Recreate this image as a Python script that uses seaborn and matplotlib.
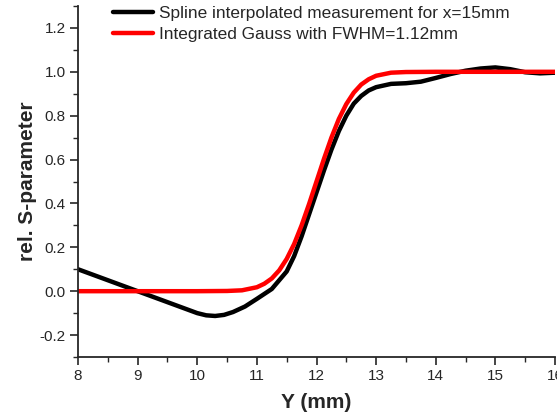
import matplotlib
matplotlib.use("Agg")
import matplotlib.pyplot as plt
import seaborn as sns
import pandas as pd
from matplotlib.ticker import MultipleLocator, FuncFormatter

meas_x = [8.0, 8.25, 8.5, 8.75, 9.0, 9.25, 9.5, 9.75, 10.0, 10.15, 10.3, 10.45, 10.6, 10.8,
          11.0, 11.25, 11.5, 11.625, 11.75, 11.875, 12.0, 12.125, 12.25, 12.375, 12.5,
          12.625, 12.75, 12.875, 13.0, 13.25, 13.5, 13.75, 14.0, 14.25, 14.5, 14.75,
          15.0, 15.25, 15.5, 15.75, 16.0]
meas_y = [0.10, 0.075, 0.05, 0.025, 0.0, -0.025, -0.05, -0.075, -0.10, -0.11, -0.113, -0.108,
          -0.095, -0.07, -0.035, 0.01, 0.09, 0.16, 0.25, 0.35, 0.45, 0.55, 0.645, 0.73, 0.80,
          0.855, 0.89, 0.915, 0.93, 0.945, 0.948, 0.955, 0.972, 0.99, 1.005, 1.015,
          1.02, 1.012, 0.998, 0.993, 0.996]

# Integrated Gauss with FWHM=1.12mm
gauss_x = [8.0, 9.0, 10.0, 10.5, 10.75, 11.0, 11.125, 11.25, 11.375, 11.5, 11.625, 11.75,
           11.875, 12.0, 12.125, 12.25, 12.375, 12.5, 12.625, 12.75, 12.875, 13.0, 13.25,
           13.5, 14.0, 15.0, 16.0]
gauss_y = [0.0, 0.0, 0.0, 0.001, 0.004, 0.018, 0.034, 0.058, 0.095, 0.147, 0.215, 0.30,
           0.397, 0.50, 0.603, 0.70, 0.785, 0.853, 0.905, 0.942, 0.966, 0.982, 0.996,
           0.999, 1.0, 1.0, 1.0]

labels = ["Spline interpolated measurement for x=15mm", "Integrated Gauss with FWHM=1.12mm"]

sns.set_style("ticks")
plt.rcParams['font.family'] = ['Liberation Sans', 'DejaVu Sans']

fig = plt.figure(figsize=(5.57, 4.16), dpi=100)
ax = fig.add_axes([78/557, 1-357/416, (555-78)/557, (357-6)/416])

df1 = pd.DataFrame({"x": meas_x, "y": meas_y})
df2 = pd.DataFrame({"x": gauss_x, "y": gauss_y})
sns.lineplot(data=df1, x="x", y="y", ax=ax, color="black", lw=3.2, label=labels[0], sort=True)
sns.lineplot(data=df2, x="x", y="y", ax=ax, color="#ff0000", lw=3.2, label=labels[1], sort=True)

ax.set_xlim(8, 16)
ax.set_ylim(-0.3, 1.3)
ax.xaxis.set_major_locator(MultipleLocator(1))
ax.xaxis.set_minor_locator(MultipleLocator(0.5))
ax.yaxis.set_major_locator(MultipleLocator(0.2))
ax.yaxis.set_minor_locator(MultipleLocator(0.1))
ax.xaxis.set_major_formatter(FuncFormatter(lambda v, p: f"{int(round(v))}"))
ax.yaxis.set_major_formatter(FuncFormatter(lambda v, p: f"{v:.1f}" if abs(v) > 1e-9 else "0.0"))

for s in ["top", "right"]:
    ax.spines[s].set_visible(False)
for s in ["left", "bottom"]:
    ax.spines[s].set_linewidth(1.3)
ax.tick_params(which="major", direction="out", length=6, width=1.2, labelsize=11, pad=3)
ax.tick_params(which="minor", direction="out", length=3.5, width=1.0)

ax.set_xlabel("Y (mm)", fontsize=15, fontweight="bold")
ax.set_ylabel("rel. S-parameter", fontsize=15, fontweight="bold")
ax.xaxis.set_label_coords(316/557, 1-402/416, transform=fig.transFigure)
ax.yaxis.set_label_coords(28/557, 1-181/416, transform=fig.transFigure)
ax.xaxis.label.set_va("center")
ax.yaxis.label.set_va("center")

leg = ax.legend(loc="upper left", bbox_to_anchor=(113/557, 1-6/416), bbox_transform=fig.transFigure,
                frameon=False, fontsize=12.4, handlelength=2.35, handletextpad=0.3,
                labelspacing=0.35, borderpad=0, borderaxespad=0)
for l in leg.get_lines():
    l.set_linewidth(3.2)

fig.savefig("out.png", dpi=100)
